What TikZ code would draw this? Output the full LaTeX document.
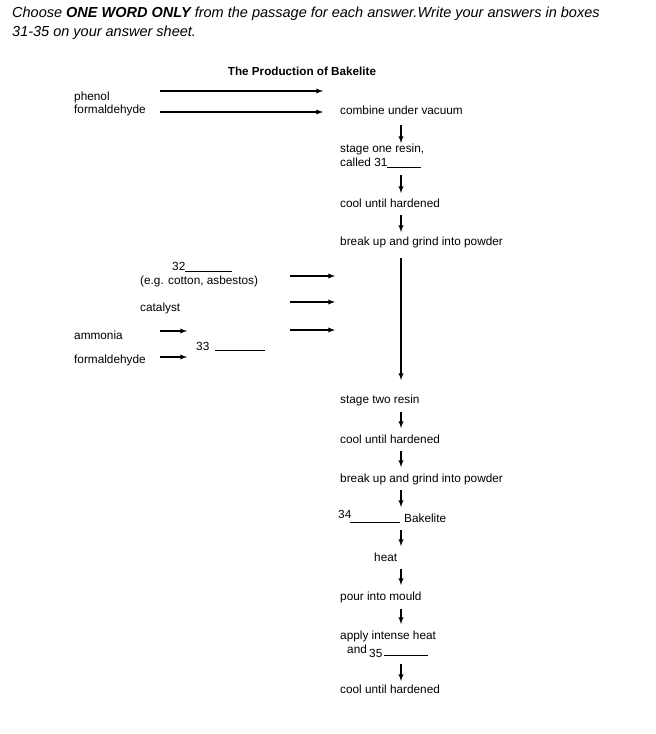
\documentclass[tikz,border=0pt]{standalone}
\usepackage{fontspec}
\setmainfont{Liberation Sans}
\usetikzlibrary{arrows,positioning}
\begin{document}
\begin{tikzpicture}[x=1pt,y=-1pt]

\tikzset{txt/.style={font=\fontsize{11.8}{14}\selectfont,anchor=west,inner sep=0pt,align=left},
arr/.style={-latex,line width=1.3pt},
blank/.style={line width=0.5pt}}

\useasboundingbox (0,0) rectangle (656,734);

% Instruction
\node[anchor=west,inner sep=0pt,font=\fontsize{14.5}{17}\selectfont\itshape] (q1) at (12,14) {Choose \textbf{ONE WORD ONLY} from the passage for each answer.Write your answers in boxes};
\node[anchor=west,inner sep=0pt,font=\fontsize{14.5}{17}\selectfont\itshape] (q2) at (12,33) {31-35 on your answer sheet.};
\node[inner sep=0pt,font=\fontsize{11.7}{14}\selectfont\bfseries] (title) at (302,71) {The Production of Bakelite};

% Inputs
\node[txt] (phenol) at (74,97) {phenol};
\node[txt] (form1) at (74,110) {formaldehyde};
\coordinate (p1) at (160,91); \coordinate (p2) at (323,91);
\coordinate (f1) at (160,112); \coordinate (f2) at (323,112);
\draw[arr] (p1) -- (p2); \draw[arr] (f1) -- (f2);

% Main chain
\node[txt] (s1) at (340,110) {combine under vacuum};
\node[txt] (s2) at (340,156) {stage one resin,\\called 31\rule[-1pt]{34pt}{0.5pt}};
\node[txt] (s3) at (340,203) {cool until hardened};
\node[txt] (s4) at (340,242) {break up and grind into powder};
\node[txt] (s5) at (340,400) {stage two resin};
\node[txt] (s6) at (340,439) {cool until hardened};
\node[txt] (s7) at (340,479) {break up and grind into powder};
\node[txt] (s8) at (404,518) {Bakelite};
\node[txt] (n34) at (338,514) {34};
\draw[blank] (350,522) -- (400,522);
\node[txt] (s9) at (374,557) {heat};
\node[txt] (s10) at (340,597) {pour into mould};
\node[txt] (s11) at (340,636) {apply intense heat};
\node[txt] (and) at (347,649) {and};
\node[txt] (n35) at (369,653) {35};
\draw[blank] (384,655) -- (428,655);
\node[txt] (s12) at (340,689) {cool until hardened};

\foreach \a/\b in {125/143,175/193,215/232,258/380,412/428,451/467,490/507,530/546,569/585,609/624,664/681}
  \draw[arr] (401,\a) -- (401,\b);

% Side inputs
\node[txt] (n32) at (172,267) {32\rule[-1pt]{47pt}{0.5pt}};
\node[txt] (fibre) at (140,281) {(e.g. cotton, asbestos)};
\node[txt] (cat) at (140,308) {catalyst};
\node[txt] (amm) at (74,335) {ammonia};
\node[txt] (form2) at (74,360) {formaldehyde};
\node[txt] (n33) at (196,346) {33};
\draw[blank] (215,350) -- (265,350);
\draw[arr] (160,331) -- (187,331);
\draw[arr] (160,357) -- (187,357);
\foreach \y in {276,302,330}
  \draw[arr] (290,\y) -- (335,\y);

\end{tikzpicture}
\end{document}
